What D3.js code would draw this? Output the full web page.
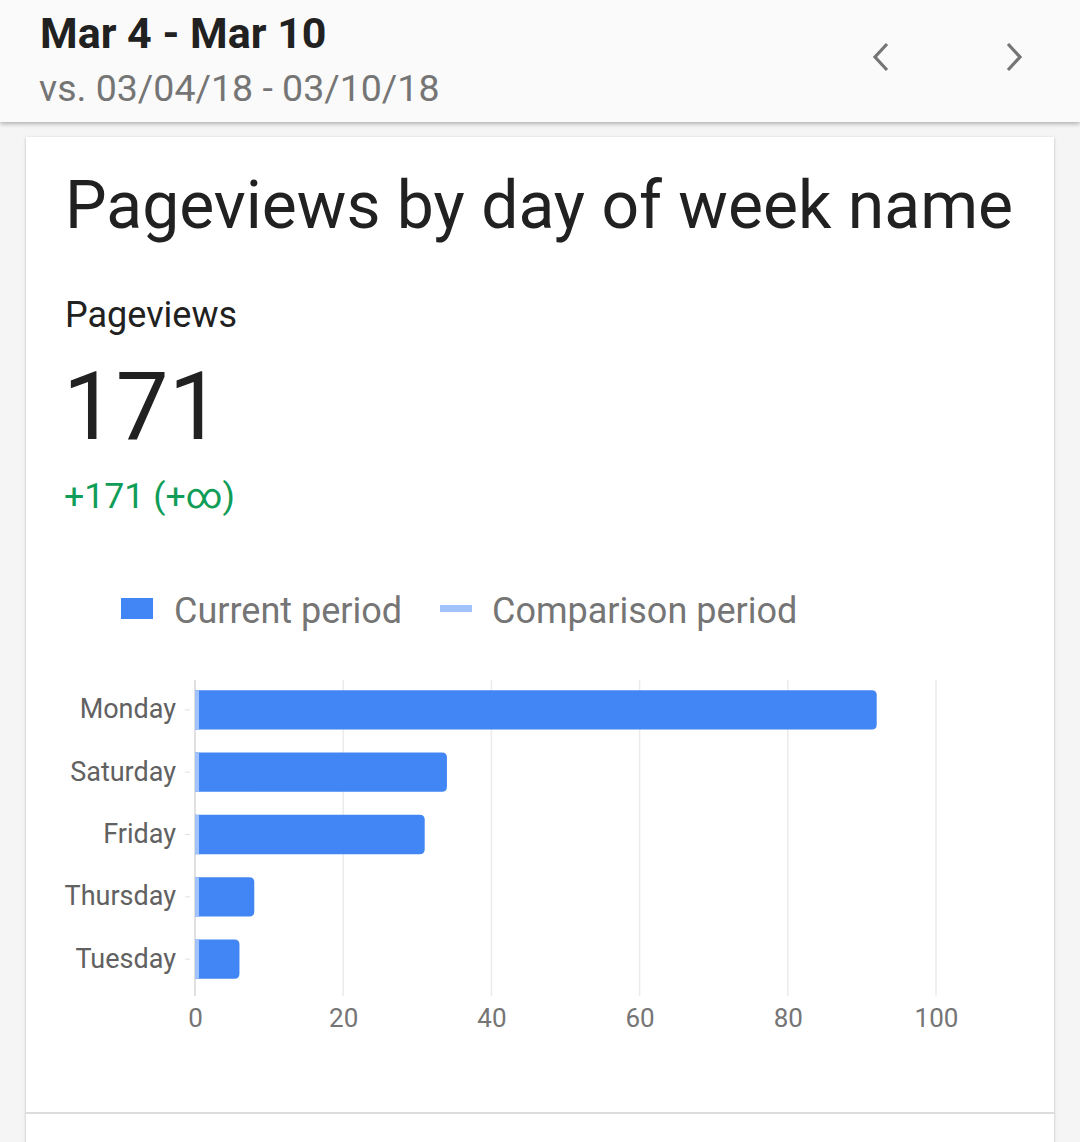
<!DOCTYPE html>
<html><head><meta charset="utf-8">
<script src="https://cdn.jsdelivr.net/npm/d3@7"></script>
<style>
html,body{margin:0;padding:0;background:#f5f5f5;}
svg{display:block;font-family:Roboto,"Noto Sans",sans-serif;}
</style></head>
<body>
<svg id="c" width="1080" height="1142"></svg>
<script>
const days = ["Monday","Saturday","Friday","Thursday","Tuesday"];
const currentValues = [92, 34, 31, 8, 6];
const comparisonValues = [0, 0, 0, 0, 0];
const xTicks = [0, 20, 40, 60, 80, 100];
const seriesNames = ["Current period", "Comparison period"];
const headerTitle = "Mar 4 - Mar 10";
const headerSub = "vs. 03/04/18 - 03/10/18";
const chartTitle = "Pageviews by day of week name";
const metricName = "Pageviews";
const metricTotal = "171";
const metricDelta = "+171 (+∞)";

const svg = d3.select("#c");
const defs = svg.append("defs");
const f1 = defs.append("filter").attr("id","sh").attr("x","-5%").attr("y","-5%").attr("width","110%").attr("height","110%");
f1.append("feDropShadow").attr("dx",0).attr("dy",1).attr("stdDeviation",1.5).attr("flood-color","#000").attr("flood-opacity",0.25);
const f2 = defs.append("filter").attr("id","sh2").attr("x","-5%").attr("y","-20%").attr("width","110%").attr("height","150%");
f2.append("feDropShadow").attr("dx",0).attr("dy",2).attr("stdDeviation",2).attr("flood-color","#000").attr("flood-opacity",0.28);

// card
svg.append("rect").attr("x",26).attr("y",137).attr("width",1028).attr("height",1040).attr("fill","#fff").attr("filter","url(#sh)");
svg.append("line").attr("x1",26).attr("x2",1054).attr("y1",1113).attr("y2",1113).attr("stroke","#dcdcdc").attr("stroke-width",2);

// header
svg.append("rect").attr("x",0).attr("y",0).attr("width",1080).attr("height",122).attr("fill","#fafafa").attr("filter","url(#sh2)");
svg.append("text").attr("x",40).attr("y",48).attr("font-size",43).attr("font-weight",700).attr("fill","#212121").text(headerTitle);
svg.append("text").attr("x",39).attr("y",101).attr("font-size",37.5).attr("fill","#757575").text(headerSub);
svg.append("path").attr("d","M887,44 L875,57 L887,70").attr("fill","none").attr("stroke","#757575").attr("stroke-width",3.2);
svg.append("path").attr("d","M1008,44 L1020,57 L1008,70").attr("fill","none").attr("stroke","#757575").attr("stroke-width",3.2);

// titles
svg.append("text").attr("x",65).attr("y",228).attr("font-size",66).attr("fill","#212121").text(chartTitle);
svg.append("text").attr("x",65).attr("y",327).attr("font-size",36).attr("fill","#212121").text(metricName);
svg.append("text").attr("x",63).attr("y",439).attr("font-size",94).attr("fill","#212121").text(metricTotal);
svg.append("text").attr("x",64).attr("y",508).attr("font-size",35.7).attr("fill","#0f9d58").text(metricDelta);

// legend
const colors = ["#4285f4", "#a1c2fa"];
svg.append("rect").attr("x",121).attr("y",598).attr("width",32).attr("height",21).attr("fill",colors[0]);
svg.append("text").attr("x",174).attr("y",623).attr("font-size",36).attr("fill","#757575").text(seriesNames[0]);
svg.append("rect").attr("x",440).attr("y",605).attr("width",32).attr("height",7).attr("fill",colors[1]);
svg.append("text").attr("x",492).attr("y",623).attr("font-size",36).attr("fill","#757575").text(seriesNames[1]);

// chart
const x = d3.scaleLinear().domain([0,100]).range([195,936]);
const y = d3.scaleBand().domain(days).range([679,990]).paddingInner(0.37).paddingOuter(0.18);

const g = svg.append("g");
g.selectAll(".grid").data(xTicks).join("line")
  .attr("x1",d=>x(d)).attr("x2",d=>x(d)).attr("y1",680).attr("y2",996)
  .attr("stroke",d=>d===0?"#d6d6d6":"#ebebeb").attr("stroke-width",1.5);

const xAxis = d3.axisBottom(x).tickValues(xTicks).tickSize(0).tickPadding(0).tickFormat(d3.format("d"));
const ax = g.append("g").attr("transform","translate(0,1002)").call(xAxis);
ax.select(".domain").remove();
ax.selectAll("text").attr("font-size",26).attr("fill","#757575").attr("font-family","Roboto,sans-serif").attr("dy","0.95em");

const yAxis = d3.axisLeft(y).tickSize(6).tickPadding(13);
const ay = g.append("g").attr("transform","translate(190,0)").call(yAxis);
ay.select(".domain").remove();
ay.selectAll(".tick line").attr("stroke","#e0e0e0").attr("x2",-5);
ay.selectAll("text").attr("font-size",27).attr("fill","#616161").attr("font-family","Roboto,sans-serif").attr("x",-14);

function barPath(x0,x1,y0,h,r){
  r = Math.min(r,(x1-x0));
  return `M${x0},${y0} H${x1-r} Q${x1},${y0} ${x1},${y0+r} V${y0+h-r} Q${x1},${y0+h} ${x1-r},${y0+h} H${x0} Z`;
}
g.selectAll(".bar").data(days).join("path")
  .attr("d",(d,i)=>barPath(x(0),x(currentValues[i]),y(d),y.bandwidth(),5))
  .attr("fill",colors[0]);
g.selectAll(".cmp").data(days).join("rect")
  .attr("x",x(0)).attr("y",d=>y(d))
  .attr("width",(d,i)=>Math.max(4,x(comparisonValues[i])-x(0)))
  .attr("height",y.bandwidth()).attr("fill",colors[1]);
</script>
</body></html>
